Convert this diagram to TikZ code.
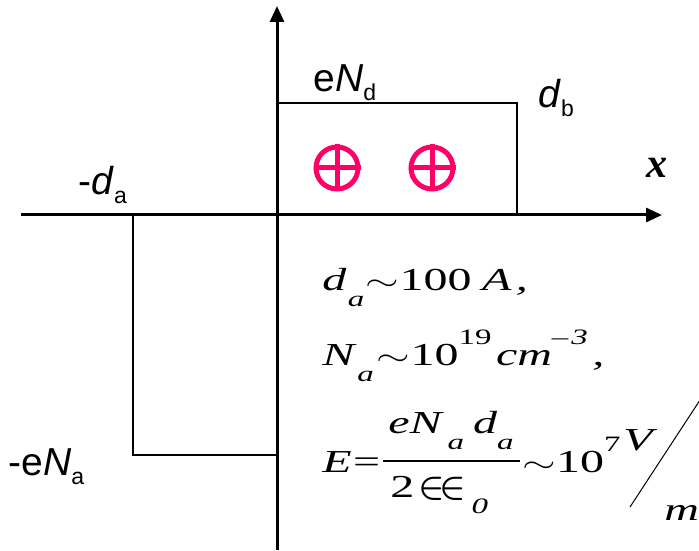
\documentclass[tikz,border=0pt]{standalone}
\usepackage{fontspec}
\usepackage{graphicx}
\usepackage{amsmath}
\setmainfont{Liberation Serif}
\newfontfamily\labfont{Liberation Sans}
\usetikzlibrary{arrows.meta}
\definecolor{plusred}{RGB}{255,0,102}
\tikzset{
  axis/.style={line width=1.5pt, -{Triangle[length=8pt,width=7pt]}},
  slab/.style={line width=1pt},
  lab/.style={anchor=base west, inner sep=0pt, font=\labfont\fontsize{19.5}{20}\selectfont},
  eqn/.style={anchor=base west, inner sep=0pt, font=\fontsize{16}{18}\selectfont\itshape},
  ion/.style={circle, draw=plusred, line width=2.5pt, minimum size=21pt, inner sep=0pt}
}
\newcommand{\lsub}[1]{\raisebox{-4.5pt}{\fontsize{11.5}{12}\selectfont #1}}
\newcommand{\wide}[1]{\scalebox{1.5}[1]{#1}}
\newcommand{\esub}[1]{\raisebox{-8pt}{\fontsize{11}{12}\selectfont #1}}
\newcommand{\esup}[1]{\raisebox{10.5pt}{\fontsize{11}{12}\selectfont #1}}
\newcommand{\tl}{{\fontsize{13.5}{14}\selectfont$\sim$}}
\begin{document}
\begin{tikzpicture}[x=0.5pt, y=-0.5pt, line cap=butt]
    \useasboundingbox (0,0) rectangle (699,550);

    % Achsen
    \coordinate (O) at (277,215);
    \draw[axis] (21,215) -- (662,215);
    \draw[axis] (277,550) -- (277,6);

    % Raumladung
    \draw[slab] (O |- 0,103) -- (517,103) -- (517,215);
    \draw[slab] (133,215) -- (133,455) -- (O |- 0,455);

    % Ionen
    \node[ion] (ion1) at (337,168) {};
    \node[ion] (ion2) at (432,168) {};
    \foreach \n in {ion1, ion2}
        \draw[plusred, line width=2.5pt] (\n.north) -- (\n.south) (\n.west) -- (\n.east);

    % Beschriftung
    \node[lab] (Nd) at (313,92) {e\textit{N}\lsub{d}};
    \node[lab] (db) at (538,108) {\textit{d}\lsub{b}};
    \node[lab] (da) at (78,195) {-\textit{d}\lsub{a}};
    \node[lab] (Na) at (8,475) {-e\textit{N}\lsub{a}};
    \node[anchor=base west, inner sep=0pt, font=\fontsize{21}{22}\selectfont\bfseries\itshape] (xlab) at (646,178) {x};

    % Abschaetzung
    \node[eqn] (l1) at (322,290) {\wide{d\hspace{0.5pt}\esub{a}\hspace{0.5pt}\tl\upshape 100\hspace{3.5pt}\itshape A\hspace{1.5pt},}};
    \node[eqn] (l2) at (322,365) {\wide{N\hspace{1pt}\esub{a}\hspace{1pt}\tl\upshape 10\esup{19}\hspace{1.5pt}\itshape cm\esup{\upshape –\hspace{1pt}\itshape 3}\hspace{1.5pt},}};
    \node[eqn] (E) at (322,472) {\wide{E\hspace{0.5pt}\upshape =}};
    \node[eqn] (num) at (388,433) {\wide{eN\hspace{2pt}\esub{a}\hspace{3pt}d\esub{a}}};
    \node[eqn] (den) at (390,497) {\wide{\upshape 2}\hspace{2pt}{\fontsize{18}{18}\selectfont$\boldsymbol{\in}\!\boldsymbol{\in}$}\hspace{3pt}\wide{\raisebox{-8pt}{\fontsize{11}{12}\selectfont\itshape 0}}};
    \draw[line width=0.75pt] (383,461) -- (520,461);
    \node[eqn] (rhs) at (522,472) {\wide{\tl\upshape 10\esup{7}}};
    \node[eqn] (V) at (623,450) {\wide{V}};
    \draw[line width=0.5pt] (630,507) -- (700,400);
    \node[eqn] (m) at (664,520) {\wide{m}};
\end{tikzpicture}
\end{document}
